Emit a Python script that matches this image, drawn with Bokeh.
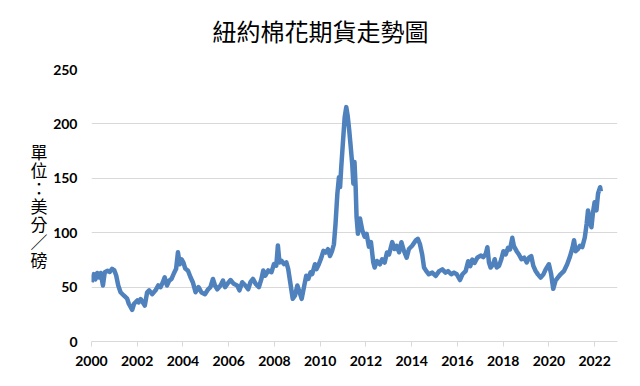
from bokeh.plotting import figure
from bokeh.models import FixedTicker, Range1d, LinearAxis
from bokeh.embed import file_html
from bokeh.resources import INLINE

years = [2000.00, 2000.10, 2000.17, 2000.25, 2000.33, 2000.40, 2000.50, 2000.58, 2000.70, 2000.80,
         2000.90, 2001.00, 2001.08, 2001.17, 2001.27, 2001.41, 2001.56, 2001.63, 2001.78, 2001.86,
         2002.00, 2002.06, 2002.15, 2002.33, 2002.43, 2002.52, 2002.65, 2002.80, 2002.92, 2003.02,
         2003.12, 2003.20, 2003.30, 2003.40, 2003.50, 2003.60, 2003.70, 2003.78, 2003.86, 2003.94,
         2004.02, 2004.10, 2004.22, 2004.33, 2004.43, 2004.55, 2004.68, 2004.81, 2004.96, 2005.10,
         2005.20, 2005.31, 2005.40, 2005.50, 2005.64, 2005.75, 2005.84, 2005.94, 2006.08, 2006.22,
         2006.37, 2006.47, 2006.59, 2006.73, 2006.85, 2006.95, 2007.06, 2007.18, 2007.32, 2007.43,
         2007.51, 2007.60, 2007.73, 2007.87, 2007.98, 2008.08, 2008.15, 2008.22, 2008.31, 2008.42,
         2008.52, 2008.60, 2008.70, 2008.80, 2008.90, 2009.00, 2009.10, 2009.19, 2009.29, 2009.39,
         2009.48, 2009.58, 2009.65, 2009.77, 2009.84, 2009.94, 2010.05, 2010.14, 2010.24, 2010.34,
         2010.43, 2010.52, 2010.60, 2010.67, 2010.75, 2010.82, 2010.87, 2010.92, 2011.01, 2011.07,
         2011.14, 2011.20, 2011.27, 2011.33, 2011.40, 2011.45, 2011.50, 2011.55, 2011.59, 2011.65,
         2011.74, 2011.84, 2011.94, 2012.03, 2012.13, 2012.22, 2012.32, 2012.38, 2012.48, 2012.61,
         2012.71, 2012.82, 2012.92, 2013.01, 2013.15, 2013.25, 2013.34, 2013.45, 2013.55, 2013.66,
         2013.78, 2013.88, 2014.02, 2014.17, 2014.27, 2014.36, 2014.46, 2014.54, 2014.64, 2014.75,
         2014.90, 2015.05, 2015.20, 2015.34, 2015.48, 2015.59, 2015.73, 2015.85, 2015.97, 2016.11,
         2016.22, 2016.36, 2016.47, 2016.56, 2016.65, 2016.75, 2016.87, 2017.02, 2017.13, 2017.24,
         2017.31, 2017.38, 2017.45, 2017.56, 2017.63, 2017.72, 2017.82, 2017.92, 2018.01, 2018.11,
         2018.21, 2018.30, 2018.40, 2018.47, 2018.59, 2018.69, 2018.80, 2018.92, 2019.03, 2019.13,
         2019.23, 2019.32, 2019.42, 2019.52, 2019.64, 2019.76, 2019.86, 2020.00, 2020.10, 2020.19,
         2020.29, 2020.39, 2020.52, 2020.66, 2020.80, 2020.92, 2021.03, 2021.10, 2021.17, 2021.27,
         2021.36, 2021.46, 2021.57, 2021.65, 2021.71, 2021.78, 2021.86, 2021.93, 2022.00, 2022.08,
         2022.15, 2022.24, 2022.27]

prices = [54.5, 62, 57, 63, 59, 63, 51.5, 63.7, 65, 64,
          66.8, 65.3, 60.7, 51.5, 45.3, 42.3, 39.3, 34.7, 29.1, 34.7,
          37.7, 36, 39, 33, 45, 47, 43.5, 47, 51.5, 50,
          54.5, 59, 51.5, 56, 57.5, 62.5, 66.8, 82, 71, 75.5,
          72.5, 67, 65, 59, 54.5, 45.3, 50, 45, 43.5, 48,
          50, 57.5, 51.5, 48, 51.5, 56, 50, 53, 56.5, 53,
          51.5, 47, 54.5, 51.5, 48, 54.5, 57.5, 53, 50, 57.5,
          65.3, 60.5, 65.3, 63.7, 71.2, 69.7, 88.2, 72.7, 74.2, 71.2,
          72.7, 66.8, 53, 39.2, 42.3, 51.5, 45.3, 39.2, 50, 60.5,
          57.5, 63.7, 62, 71, 66.5, 71, 77.1, 83.3, 81.8, 84.8,
          78.6, 83.3, 89.4, 108, 135.7, 151, 142, 160, 187.8, 206,
          215.4, 207.7, 194, 180, 163, 145, 165, 142, 114.6, 99,
          113, 102.3, 96.4, 99, 87.2, 91.3, 72.9, 68, 74, 71,
          75.6, 72.6, 81.8, 80, 91.3, 85, 88, 82, 91.3, 83.4,
          77, 85, 88, 92.7, 94.3, 89.6, 80, 68, 64.7, 61.8,
          63.3, 60.2, 64.7, 66.3, 63.3, 64.7, 61.8, 63.3, 61.8, 56.5,
          61.8, 64.7, 73.8, 69.2, 75.3, 72.3, 77, 79, 77.6, 80.6,
          86.6, 72.6, 68, 71, 75.6, 68, 69.5, 75.6, 83, 80,
          86, 84.6, 95.3, 87.6, 83, 80, 75.6, 77, 72.6, 77,
          78.4, 69.5, 64.8, 61.7, 58.7, 61.7, 66.3, 71, 61.7, 48.4,
          56, 58.7, 62, 64.8, 71, 78, 86, 93, 83, 85,
          88, 86.7, 95.6, 108, 120.5, 111, 105, 119, 128, 120.5,
          136, 141.8, 138]

x_ticks = [2000, 2002, 2004, 2006, 2008, 2010, 2012, 2014, 2016, 2018, 2020, 2022]
y_ticks = [0, 50, 100, 150, 200, 250]
title_text = "紐約棉花期貨走勢圖"
title_anchor = 2010.01
unit_text = "單\n位\n：\n美\n分\n／\n磅"
unit_anchor = 125

p = figure(width=640, height=386, output_backend="svg", toolbar_location=None,
           x_range=Range1d(2000, 2023), y_range=Range1d(0, 250),
           min_border_left=91, min_border_right=23, min_border_top=69, min_border_bottom=45)
p.title = None

p.line(years, prices, line_color="#4F81BD", line_width=4.5, line_join="round")

p.outline_line_color = None
p.xgrid.grid_line_color = None
p.ygrid.grid_line_color = "#D9D9D9"
p.ygrid.grid_line_width = 1

p.xaxis.ticker = FixedTicker(ticks=x_ticks)
p.yaxis.ticker = FixedTicker(ticks=y_ticks)
p.xaxis.minor_tick_line_color = None
p.yaxis.minor_tick_line_color = None
p.xaxis.axis_line_color = "#D9D9D9"
p.xaxis.major_tick_line_color = "#D9D9D9"
p.xaxis.major_tick_in = 0
p.xaxis.major_tick_out = 5
p.xaxis.major_label_standoff = 9
p.yaxis.axis_line_color = None
p.yaxis.major_tick_line_color = None
p.yaxis.major_label_standoff = 8
for ax in (p.xaxis, p.yaxis):
    ax.major_label_text_font = "Lato"
    ax.major_label_text_font_style = "bold"
    ax.major_label_text_font_size = "14px"
    ax.major_label_text_color = "#000000"

title_axis = LinearAxis(ticker=FixedTicker(ticks=[title_anchor]),
                        major_label_overrides={title_anchor: title_text},
                        axis_line_color=None, major_tick_line_color=None,
                        minor_tick_line_color=None, major_tick_out=0,
                        major_label_standoff=22,
                        major_label_text_font="Noto Sans CJK TC",
                        major_label_text_font_size="24px",
                        major_label_text_color="#000000")
p.add_layout(title_axis, "above")

unit_axis = LinearAxis(ticker=FixedTicker(ticks=[unit_anchor]),
                       major_label_overrides={unit_anchor: unit_text},
                       axis_line_color=None, major_tick_line_color=None,
                       minor_tick_line_color=None, major_tick_out=0,
                       major_label_standoff=3,
                       major_label_text_font="Noto Sans CJK TC",
                       major_label_text_font_size="17px",
                       major_label_text_line_height=0.72,
                       major_label_text_color="#000000")
p.add_layout(unit_axis, "left")

open("out.html", "w").write(file_html(p, INLINE))
